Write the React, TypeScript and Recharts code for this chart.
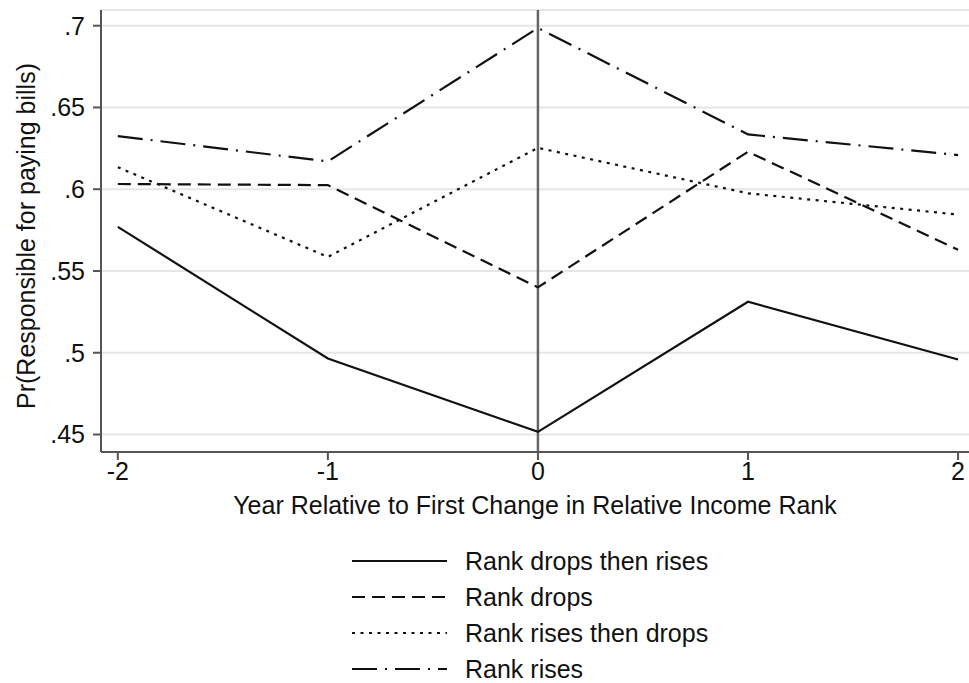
import React from 'react';
import {
  LineChart,
  Line,
  XAxis,
  YAxis,
  CartesianGrid,
  ReferenceLine,
} from 'recharts';

// Event-time axis (years relative to first rank change)
const years = [-2, -1, 0, 1, 2];

// Predicted probability of being responsible for paying bills, by group
const dropsThenRises = [0.577, 0.4965, 0.4516, 0.5312, 0.4959];
const drops = [0.6032, 0.6025, 0.54, 0.6229, 0.563];
const risesThenDrops = [0.6135, 0.5586, 0.6253, 0.5975, 0.5845];
const rises = [0.6325, 0.617, 0.6986, 0.6335, 0.6209];

const yTicks = [0.45, 0.5, 0.55, 0.6, 0.65, 0.7];

const data = years.map((year, i) => ({
  year,
  dropsThenRises: dropsThenRises[i],
  drops: drops[i],
  risesThenDrops: risesThenDrops[i],
  rises: rises[i],
}));

const FONT = '"Liberation Sans", Arial, Helvetica, sans-serif';
const INK = '#111';

const series = [
  { key: 'dropsThenRises', name: 'Rank drops then rises', dash: undefined },
  { key: 'drops', name: 'Rank drops', dash: '13 7' },
  { key: 'risesThenDrops', name: 'Rank rises then drops', dash: '3 5.5' },
  { key: 'rises', name: 'Rank rises', dash: '25 8 2 8' },
];

// Stata-style tick label: drop the leading zero (".65")
const fmtY = (v: number) => {
  const s = String(Number(v.toFixed(2)));
  return s.replace(/^0\./, '.');
};

// Rotated y-axis title
const YTitle = () => (
  <text
    x={0}
    y={0}
    transform="translate(35,236) rotate(-90)"
    textAnchor="middle"
    fontFamily={FONT}
    fontSize={25}
    fill={INK}
  >
    Pr(Responsible for paying bills)
  </text>
);

function ChartLegend() {
  return (
    <svg
      width={420}
      height={150}
      style={{ position: 'absolute', left: 340, top: 540 }}
    >
      {series.map((s, i) => {
        const y = 21 + i * 36;
        return (
          <g key={s.key}>
            <line
              x1={12}
              x2={107}
              y1={y}
              y2={y}
              stroke={INK}
              strokeWidth={2}
              strokeDasharray={s.dash}
            />
            <text
              x={125}
              y={y + 9}
              fontFamily={FONT}
              fontSize={25}
              fill={INK}
            >
              {s.name}
            </text>
          </g>
        );
      })}
    </svg>
  );
}

export default function App() {
  return (
    <div
      style={{
        position: 'absolute',
        left: 0,
        top: 0,
        width: 969,
        height: 683,
        background: '#fff',
      }}
    >
      <LineChart
        width={969}
        height={683}
        data={data}
        margin={{ top: 10, right: 0, bottom: 151, left: 0 }}
      >
        <CartesianGrid
          vertical={false}
          stroke="#e6e6e6"
          strokeWidth={2}
        />
        <XAxis
          dataKey="year"
          type="number"
          domain={[-2.08, 2.052]}
          ticks={years}
          height={80}
          stroke="#555"
          strokeWidth={2}
          tickSize={8}
          tickMargin={2}
          tick={{ fontSize: 25, fill: INK, fontFamily: FONT }}
          label={{
            value: 'Year Relative to First Change in Relative Income Rank',
            position: 'insideBottom',
            offset: 18,
            fontSize: 25,
            fill: INK,
            fontFamily: FONT,
          }}
        />
        <YAxis
          type="number"
          domain={[0.4393, 0.7096]}
          ticks={yTicks}
          width={101}
          stroke="#555"
          strokeWidth={2}
          tickSize={8}
          tickMargin={8}
          tickFormatter={fmtY}
          tick={{ fontSize: 25, fill: INK, fontFamily: FONT }}
          label={YTitle}
        />
        <ReferenceLine x={0} stroke="#666" strokeWidth={2.5} />
        {series.map((s) => (
          <Line
            key={s.key}
            dataKey={s.key}
            name={s.name}
            type="linear"
            stroke={INK}
            strokeWidth={2.2}
            strokeDasharray={s.dash}
            dot={false}
            activeDot={false}
            isAnimationActive={false}
          />
        ))}
      </LineChart>
      <ChartLegend />
    </div>
  );
}
